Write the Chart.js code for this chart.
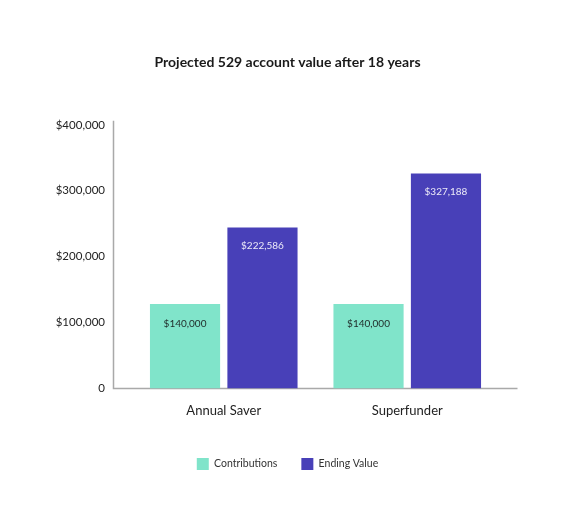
<!DOCTYPE html>
<html>
<head>
<meta charset="utf-8">
<script src="https://cdn.jsdelivr.net/npm/chart.js@4"></script>
<style>
  body { margin: 0; background: #fff; }
  #wrap { width: 575px; height: 530px; position: relative; }
</style>
</head>
<body>
<div id="wrap"><canvas id="chart"></canvas></div>
<script>
'use strict';

const categories = ['Annual Saver', 'Superfunder'];
const contributions = [128000, 128000];
const endingValue = [244000, 326000];
const contributionLabels = ['$140,000', '$140,000'];
const endingLabels = ['$222,586', '$327,188'];
const yTicks = [0, 100000, 200000, 300000, 400000];

const fontFamily = 'Lato, "Open Sans", sans-serif';

// value text inside the top of each bar
const barLabels = {
  id: 'barLabels',
  afterDatasetsDraw(chart) {
    const ctx = chart.ctx;
    const texts = [contributionLabels, endingLabels];
    const colors = ['#1e2a28', '#eceaf8'];
    const offsets = [20, 18];
    ctx.save();
    ctx.font = '10px ' + fontFamily;
    ctx.textAlign = 'center';
    ctx.textBaseline = 'middle';
    chart.data.datasets.forEach((ds, i) => {
      const meta = chart.getDatasetMeta(i);
      meta.data.forEach((bar, j) => {
        ctx.fillStyle = colors[i];
        ctx.fillText(texts[i][j], bar.x, bar.y + offsets[i]);
      });
    });
    ctx.restore();
  }
};

// axis lines reach past the bars on both sides
const axisLines = {
  id: 'axisLines',
  beforeDatasetsDraw(chart) {
    const a = chart.chartArea;
    const ctx = chart.ctx;
    const ext = 18.5;
    ctx.save();
    ctx.strokeStyle = '#a9a9a9';
    ctx.lineWidth = 1.5;
    ctx.beginPath();
    ctx.moveTo(a.left - ext, a.top - 4);
    ctx.lineTo(a.left - ext, a.bottom);
    ctx.lineTo(a.right + ext, a.bottom);
    ctx.stroke();
    ctx.restore();
  }
};

new Chart(document.getElementById('chart'), {
  type: 'bar',
  data: {
    labels: categories,
    datasets: [{
      label: 'Contributions',
      data: contributions,
      backgroundColor: '#80e4ca',
      barPercentage: 0.906,
      categoryPercentage: 0.844
    }, {
      label: 'Ending Value',
      data: endingValue,
      backgroundColor: '#4840b8',
      barPercentage: 0.906,
      categoryPercentage: 0.844
    }]
  },
  plugins: [axisLines, barLabels],
  options: {
    responsive: true,
    maintainAspectRatio: false,
    animation: false,
    layout: { padding: { left: 0, right: 0, bottom: 50 } },
    plugins: {
      title: {
        display: true,
        text: 'Projected 529 account value after 18 years',
        color: '#1a1a1a',
        font: { family: fontFamily, size: 14, weight: 'bold' },
        padding: { top: 54, bottom: 54 }
      },
      legend: {
        position: 'bottom',
        labels: {
          color: '#333',
          font: { family: fontFamily, size: 10.5 },
          boxWidth: 12,
          boxHeight: 12,
          padding: 24
        }
      },
      tooltip: { enabled: false }
    },
    scales: {
      x: {
        grid: { display: false, drawTicks: false },
        border: { display: false },
        ticks: {
          color: '#222',
          font: { family: fontFamily, size: 13 },
          padding: 15
        }
      },
      y: {
        min: 0,
        max: 400000,
        afterFit(scale) { scale.width = 132; },
        afterBuildTicks(scale) { scale.ticks = yTicks.map(v => ({ value: v })); },
        grid: { display: false, drawTicks: false },
        border: { display: false },
        ticks: {
          color: '#222',
          font: { family: fontFamily, size: 11.5 },
          padding: 27,
          callback: v => v === 0 ? '0' : '$' + v.toLocaleString('en-US')
        }
      },
      // empty right-hand scale keeps the plot off the right edge
      yRight: {
        position: 'right',
        display: true,
        afterFit(scale) { scale.width = 76; },
        grid: { display: false, drawTicks: false },
        border: { display: false },
        ticks: { display: false }
      }
    }
  }
});
</script>
</body>
</html>
